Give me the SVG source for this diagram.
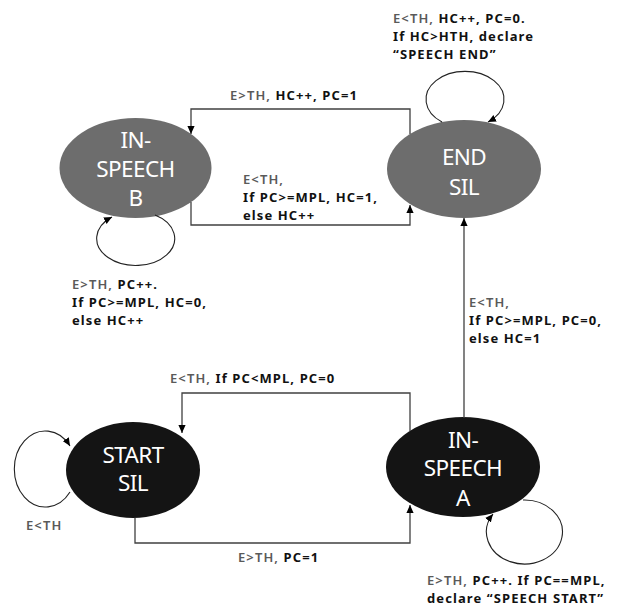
<svg xmlns="http://www.w3.org/2000/svg" width="630" height="607" viewBox="0 0 630 607">
<defs>
<marker id="ah" viewBox="0 0 10 10" refX="10" refY="5" markerWidth="8" markerHeight="8" markerUnits="userSpaceOnUse" orient="auto">
<path d="M0,0.5 L10,5 L0,9.5 z" fill="#000"/>
</marker>
<style>
.grey{fill:#6d6d6d}
.black{fill:#141414}
.nt{font-family:"Noto Sans","Open Sans",sans-serif;font-size:22.5px;fill:#fff;text-anchor:middle;letter-spacing:-0.6px}
.conn path{fill:none;stroke:#404040;stroke-width:1.3;marker-end:url(#ah)}
.conn path.loop{stroke:#222;stroke-width:1.1}
.lb{font-family:"Noto Sans","Open Sans",sans-serif;font-size:13px;font-weight:700;fill:#111;letter-spacing:1.1px}
.g{fill:#5a5a5a;font-weight:600}
</style>
</defs>
<rect width="630" height="607" fill="#fff"/>

<g id="in-speech-b">
<ellipse class="grey" cx="135.5" cy="168" rx="76" ry="50"/>
<text class="nt" x="135.5" y="148">IN-</text>
<text class="nt" x="135.5" y="177">SPEECH</text>
<text class="nt" x="135.5" y="206">B</text>
</g>
<g id="end-sil">
<ellipse class="grey" cx="464" cy="169" rx="77" ry="49"/>
<text class="nt" x="464" y="165">END</text>
<text class="nt" x="464" y="195">SIL</text>
</g>
<g id="start-sil">
<ellipse class="black" cx="133" cy="470" rx="67" ry="48"/>
<text class="nt" x="133" y="463">START</text>
<text class="nt" x="133" y="491">SIL</text>
</g>
<g id="in-speech-a">
<ellipse class="black" cx="463" cy="467" rx="77" ry="50"/>
<text class="nt" x="463" y="448">IN-</text>
<text class="nt" x="463" y="476">SPEECH</text>
<text class="nt" x="463" y="506">A</text>
</g>

<g id="connectors" class="conn">
<path d="M410,134 V109 H191 V134"/>
<path d="M191,202 V225 H410 V205"/>
<path class="loop" d="M155,215 A39,27 0 1 1 112,217"/>
<path class="loop" d="M442,122 A39,28 0 1 1 488,122"/>
<path d="M464,418 V218"/>
<path d="M410,431 V393 H182 V433"/>
<path d="M135,518 V543 H410 V505"/>
<path class="loop" d="M70,492 A31,38 0 1 1 70,446"/>
<path class="loop" d="M523,500 A38,32 0 1 1 493,514"/>
</g>

<g id="labels">
<text class="lb" x="230" y="100"><tspan class="g">E&gt;TH,</tspan> HC++, PC=1</text>
<text class="lb" x="243" y="184"><tspan class="g">E&lt;TH,</tspan></text>
<text class="lb" x="243" y="202">If PC&gt;=MPL, HC=1,</text>
<text class="lb" x="243" y="220">else HC++</text>
<text class="lb" x="393" y="23"><tspan class="g">E&lt;TH,</tspan> HC++, PC=0.</text>
<text class="lb" x="393" y="41">If HC&gt;HTH, declare</text>
<text class="lb" x="393" y="59">“SPEECH END”</text>
<text class="lb" x="72" y="289"><tspan class="g">E&gt;TH,</tspan> PC++.</text>
<text class="lb" x="72" y="307">If PC&gt;=MPL, HC=0,</text>
<text class="lb" x="72" y="325">else HC++</text>
<text class="lb" x="469" y="307"><tspan class="g">E&lt;TH,</tspan></text>
<text class="lb" x="469" y="325">If PC&gt;=MPL, PC=0,</text>
<text class="lb" x="469" y="343">else HC=1</text>
<text class="lb" x="170" y="383"><tspan class="g">E&lt;TH,</tspan>  If PC&lt;MPL, PC=0</text>
<text class="lb" x="26" y="530"><tspan class="g">E&lt;TH</tspan></text>
<text class="lb" x="238" y="562"><tspan class="g">E&gt;TH,</tspan> PC=1</text>
<text class="lb" x="427" y="585"><tspan class="g">E&gt;TH,</tspan> PC++. If PC==MPL,</text>
<text class="lb" x="427" y="603">declare “SPEECH START”</text>
</g>
</svg>
